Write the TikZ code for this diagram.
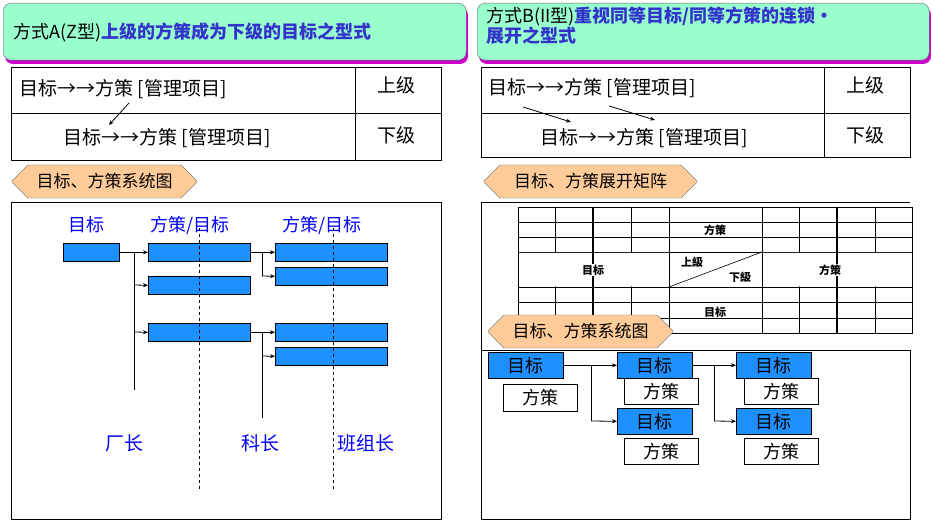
\documentclass[tikz,border=0pt]{standalone}
\usepackage{fontspec}
\setmainfont{Noto Sans CJK SC}
\usetikzlibrary{arrows.meta,shapes.misc}
\definecolor{hdr}{HTML}{99FFCC}
\definecolor{shd}{HTML}{CC00CC}
\definecolor{ttl}{HTML}{3333CC}
\definecolor{tab}{HTML}{FFCC99}
\definecolor{bbox}{HTML}{1E90FF}
\tikzset{
 hdrbox/.style={draw=black!60,fill=hdr,rounded corners=8pt},
 tabbox/.style={draw=black!60,fill=tab,chamfered rectangle,chamfered rectangle xsep=8pt,chamfered rectangle ysep=8pt,inner sep=0},
 blu/.style={draw=black,fill=bbox,line width=0.6pt},
 wht/.style={draw=black,fill=white,line width=0.6pt},
 conn/.style={line width=0.8pt},
 arr/.style={line width=0.8pt,-{Stealth[length=5pt,width=4pt]}},
}
\newcommand{\ftz}[1]{\fontsize{#1}{#1}\selectfont}
\begin{document}
\begin{tikzpicture}[x=1pt,y=-1pt]
\useasboundingbox (0,0) rectangle (931,521);
% headers
\fill[shd,rounded corners=8pt] (5,7) rectangle (468,64);
\node[hdrbox,minimum width=463,minimum height=57,anchor=north west,inner sep=0] (hA) at (3,3) {};
\node[anchor=west] (hAt) at (10,32) {\ftz{18}方式A(Z型)\textcolor{ttl}{\bfseries 上级的方策成为下级的目标之型式}};
\fill[shd,rounded corners=8pt] (479,7) rectangle (931,64);
\node[hdrbox,minimum width=452,minimum height=57,anchor=north west,inner sep=0] (hB) at (477,3) {};
\node[anchor=north west,align=left,inner sep=0] (hBt) at (486,7) {\ftz{18}方式B(II型)\textcolor{ttl}{\bfseries 重视同等目标/同等方策的连锁・}\\[-1pt]\ftz{18}\textcolor{ttl}{\bfseries 展开之型式}};
% left table
\draw[line width=0.7pt] (11,67) rectangle (441,160) (11,113)--(441,113) (355,67)--(355,160);
\node[anchor=west] (la1) at (16,89) {\ftz{19}目标→→方策 [管理项目]};
\node[anchor=west] (la2) at (60,138) {\ftz{19}目标→→方策 [管理项目]};
\node (lu) at (396,85) {\ftz{19}上级};
\node (ld) at (396,135) {\ftz{19}下级};
\coordinate (a1) at (129,103); \coordinate (a2) at (109,125);
\draw[arr] (a1)--(a2);
% left tab and box
\node[tabbox,minimum width=185,minimum height=33] (t1) at (104.5,181.5) {\ftz{17}目标、方策系统图};
\draw[line width=0.7pt] (11,202) rectangle (441,519);
\node[text=blue] (g1) at (86,225) {\ftz{18}目标};
\node[text=blue] (g2) at (190,225) {\ftz{18}方策/目标};
\node[text=blue] (g3) at (322,225) {\ftz{18}方策/目标};
\foreach \n/\a/\b/\c/\d in {b1/63/243/119/261,b2/148/243/250/261,b3/148/276/250/294,b4/148/323/250/341,b5/275/243/387/261,b6/275/267/387/285,b7/275/323/387/341,b8/275/347/387/365}
 \node[blu,minimum width=\c-\a,minimum height=\d-\b,inner sep=0,anchor=north west] (\n) at (\a,\b) {};
\draw[dashed,line width=1pt] (199,228)--(199,490) (333,228)--(333,490);
\draw[arr] (b1.east)--(b2.west);
\draw[conn] (134,252)--(134,390);
\draw[arr] (134,285)--(b3.west);
\draw[arr] (134,332)--(b4.west);
\draw[arr] (b2.east)--(b5.west);
\draw[conn] (262,252)--(262,276);
\draw[arr] (262,276)--(b6.west);
\draw[arr] (b4.east)--(b7.west);
\draw[conn] (262,332)--(262,418);
\draw[arr] (262,356)--(b8.west);
\node[text=blue] (p1) at (124,443) {\ftz{19}厂长};
\node[text=blue] (p2) at (260,443) {\ftz{19}科长};
\node[text=blue] (p3) at (366,443) {\ftz{19}班组长};
% right table
\draw[line width=0.7pt] (481,67) rectangle (910,157) (481,113)--(910,113) (824,67)--(824,157);
\node[anchor=west] (ra1) at (485,88) {\ftz{19}目标→→方策 [管理项目]};
\node[anchor=west] (ra2) at (537,138) {\ftz{19}目标→→方策 [管理项目]};
\node (ru) at (865,85) {\ftz{19}上级};
\node (rd) at (865,135) {\ftz{19}下级};
\draw[arr] (523,107)--(571,122);
\draw[arr] (609,106)--(655,120);
% matrix panel
\draw[line width=0.7pt] (481,350)--(481,202)--(910,202);
\foreach \y in {222,237,252,287,302,318} \draw[line width=0.7pt] (518,\y)--(912,\y);
\foreach \x in {555,631,669,762,799,875} \draw[line width=0.7pt] (\x,207)--(\x,333);
\fill[white] (670,223) rectangle (761,236.3) (670,303) rectangle (761,317.3);
\fill[white] (519,253) rectangle (668,286.3) (763,253) rectangle (911,286.3);
\fill[white] (670,238) rectangle (761,251.3);
\draw[line width=0.7pt] (669,222)--(762,222) (669,237)--(762,237) (669,302)--(762,302) (669,318)--(762,318) (669,252)--(762,252);
\draw[line width=0.7pt] (518,207) rectangle (912,333);
\draw[line width=2pt] (593,207)--(593,333) (837,207)--(837,333);
\draw[line width=0.6pt] (669,287)--(762,252);
\node[fill=white,inner sep=1pt] (m1) at (715,230) {\ftz{11}\bfseries 方策};
\node[fill=white,inner sep=1pt] (m2) at (593,270) {\ftz{11}\bfseries 目标};
\node (m3) at (692,262) {\ftz{11}\bfseries 上級};
\node (m4) at (740,277) {\ftz{11}\bfseries 下級};
\node[fill=white,inner sep=1pt] (m5) at (830,270) {\ftz{11}\bfseries 方策};
\node (m6) at (715,312) {\ftz{11}\bfseries 目标};
\node[tabbox,minimum width=213,minimum height=33] (t2) at (590.5,181.5) {\ftz{17}目标、方策展开矩阵};
\node[tabbox,minimum width=185,minimum height=33] (t3) at (580.5,331.5) {\ftz{17}目标、方策系统图};
\draw[line width=0.7pt] (481,350) rectangle (910,519);
% right system
\foreach \n/\a/\b/\c/\d/\s in {r1/488/352/563/378/blu,r2/503/384/577/411/wht,r3/617/352/692/378/blu,r4/624/378/698/404/wht,r5/736/352/811/378/blu,r6/744/378/818/404/wht,r7/617/408/692/434/blu,r8/624/438/698/464/wht,r9/736/408/811/434/blu,r10/744/438/818/464/wht}
 \node[\s,minimum width=\c-\a,minimum height=\d-\b,inner sep=0,anchor=north west] (\n) at (\a,\b) {};
\foreach \n/\t in {r1/目标,r2/方策,r3/目标,r4/方策,r5/目标,r6/方策,r7/目标,r8/方策,r9/目标,r10/方策}
 \node (\n t) at (\n.center) {\ftz{18}\t};
\draw[arr] (r1.east)--(r3.west);
\draw[conn] (591,365)--(591,421);
\draw[arr] (591,421)--(r7.west);
\draw[arr] (r3.east)--(r5.west);
\draw[conn] (714,365)--(714,421);
\draw[arr] (714,421)--(r9.west);
\end{tikzpicture}
\end{document}
